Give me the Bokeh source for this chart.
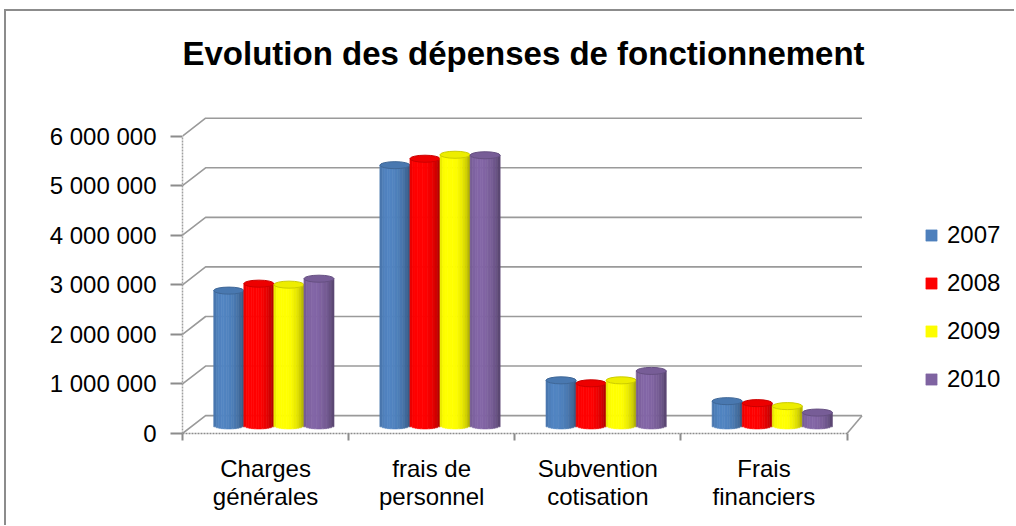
import math
from bokeh.plotting import figure
from bokeh.models import (Range1d, FixedTicker, Legend, LegendItem,
                          ColumnDataSource)
from bokeh.embed import file_html
from bokeh.resources import INLINE

# ---------------- data ----------------
categories = ["Charges\ngénérales", "frais de\npersonnel",
              "Subvention\ncotisation", "Frais\nfinanciers"]
years = ["2007", "2008", "2009", "2010"]
v2007 = [2720000, 5250000, 910000, 490000]
v2008 = [2860000, 5380000, 850000, 450000]
v2009 = [2840000, 5460000, 910000, 390000]
v2010 = [2960000, 5450000, 1100000, 260000]
y_ticks = [0, 1000000, 2000000, 3000000, 4000000, 5000000, 6000000]
y_tick_labels = ["0", "1 000 000", "2 000 000", "3 000 000",
                 "4 000 000", "5 000 000", "6 000 000"]
colors = ["#4F81BD", "#FF0000", "#FFFF00", "#8064A2"]
title_text = "Evolution des dépenses de fonctionnement"

series = [v2007, v2008, v2009, v2010]

# ---------------- style / geometry constants ----------------
PX_Y = 49.3 / 1e6      # px per value unit
bar_w = 0.181          # bar width in category units
bar_dx = 0.05          # depth offset of bars (x)
bar_dy = 8 / PX_Y      # depth offset of bars (y)
cap_h = 7 / PX_Y       # cylinder cap height
back_dx = 0.139
back_dy = 0.36e6
back_x1 = 4.09
N_STRIPS = 12
FONT = "Liberation Sans"
GRID = "#9a9a9a"

p = figure(width=1008, height=514,
           x_range=Range1d(0, 5.02), y_range=Range1d(0, 7.12e6),
           output_backend="svg", toolbar_location=None,
           min_border_left=176, min_border_bottom=94,
           min_border_top=69, min_border_right=0)
p.outline_line_color = None
p.grid.visible = False
p.background_fill_color = "white"
p.styles = {"border-left": "2px solid #8c8c8c", "border-top": "2px solid #8c8c8c",
            "box-sizing": "content-box", "margin-left": "4px", "margin-top": "9px"}

# ---------------- title ----------------
p.title.text = title_text
p.title.align = "left"
p.title.offset = 0
p.title.standoff = 18
p.title.text_font = FONT
p.title.text_font_style = "bold"
p.title.text_font_size = "33px"
p.title.text_color = "black"

# ---------------- 3D walls ----------------
xs, ys = [], []
for t in y_ticks:
    xs.append([0, back_dx, back_x1])
    ys.append([t, t + back_dy, t + back_dy])
p.multi_line(xs, ys, line_color=GRID, line_width=1.6)
p.line([4.0, back_x1], [0, back_dy], line_color=GRID, line_width=1.6)

# ---------------- bars as shaded cylinders ----------------
def shade(hexcol, f):
    r = int(hexcol[1:3], 16); g = int(hexcol[3:5], 16); b = int(hexcol[5:7], 16)
    c = lambda v: max(0, min(255, int(round(v * f))))
    return "#%02x%02x%02x" % (c(r), c(g), c(b))

items = []
for si, vals in enumerate(series):
    base = colors[si]
    left, right, top, bottom, col = [], [], [], [], []
    cx_list, cy_list = [], []
    best_k, best_d = 0, 9
    for ci, v in enumerate(vals):
        cx = ci + 0.5 + bar_dx + (si - 1.5) * bar_w
        x0 = cx - bar_w / 2
        for j in range(N_STRIPS):
            u = -1 + (2 * j + 1) / N_STRIPS
            n = math.sqrt(max(0.0, 1 - u * u))
            f = 0.7 + 0.38 * (0.8 * n - 0.3 * u)
            if ci == 0 and abs(f - 1.0) < best_d:
                best_d, best_k = abs(f - 1.0), len(left)
            left.append(x0 + j * bar_w / N_STRIPS)
            right.append(x0 + (j + 1) * bar_w / N_STRIPS)
            top.append(v + bar_dy)
            bottom.append(bar_dy - (cap_h / 2) * n)
            col.append(shade(base, f))
        cx_list.append(cx)
        cy_list.append(v + bar_dy)
    src = ColumnDataSource(dict(left=left, right=right, top=top, bottom=bottom, col=col))
    r = p.quad(left="left", right="right", top="top", bottom="bottom", source=src,
               fill_color="col", line_color="col", line_width=0.6)
    p.ellipse(x=cx_list, y=cy_list, width=bar_w, height=cap_h,
              fill_color=shade(base, 0.93), line_color=shade(base, 0.8), line_width=1)
    items.append(LegendItem(label=years[si], renderers=[r], index=best_k))

# ---------------- legend ----------------
legend = Legend(items=items, location=(742, 40), orientation="vertical",
                glyph_width=14, glyph_height=14, label_height=28, spacing=20,
                label_standoff=9, padding=0, margin=0,
                border_line_alpha=0, background_fill_alpha=0,
                label_text_font=FONT, label_text_font_size="24px",
                label_text_color="black")
p.add_layout(legend)

# ---------------- axes ----------------
ya = p.yaxis[0]
ya.ticker = FixedTicker(ticks=y_ticks)
ya.major_label_overrides = {t: lbl for t, lbl in zip(y_ticks, y_tick_labels)}
ya.bounds = (0, 6000000)
ya.axis_line_color = "#a0a0a0"
ya.axis_line_dash = "2 1"
ya.axis_line_width = 1.5
ya.major_tick_line_color = "#8c8c8c"
ya.major_tick_line_width = 2
ya.major_tick_out = 12
ya.major_tick_in = 0
ya.minor_tick_line_color = None
ya.major_label_standoff = 14
ya.major_label_text_font = FONT
ya.major_label_text_font_size = "24px"
ya.major_label_text_color = "black"

xa = p.xaxis[0]
xa.ticker = FixedTicker(ticks=[i + 0.5 for i in range(len(categories))],
                        minor_ticks=[float(i) for i in range(len(categories) + 1)])
xa.major_label_overrides = {i + 0.5: c for i, c in enumerate(categories)}
xa.bounds = (0, 4)
xa.axis_line_color = "#8c8c8c"
xa.axis_line_dash = "2 1"
xa.axis_line_width = 1.5
xa.major_tick_out = 0
xa.major_tick_in = 0
xa.major_tick_line_color = None
xa.minor_tick_out = 7
xa.minor_tick_in = 0
xa.minor_tick_line_color = "#8c8c8c"
xa.minor_tick_line_width = 2
xa.major_label_standoff = 14
xa.major_label_text_line_height = 1.05
xa.major_label_text_font = FONT
xa.major_label_text_font_size = "24px"
xa.major_label_text_color = "black"

open("out.html", "w").write(file_html(p, INLINE))
